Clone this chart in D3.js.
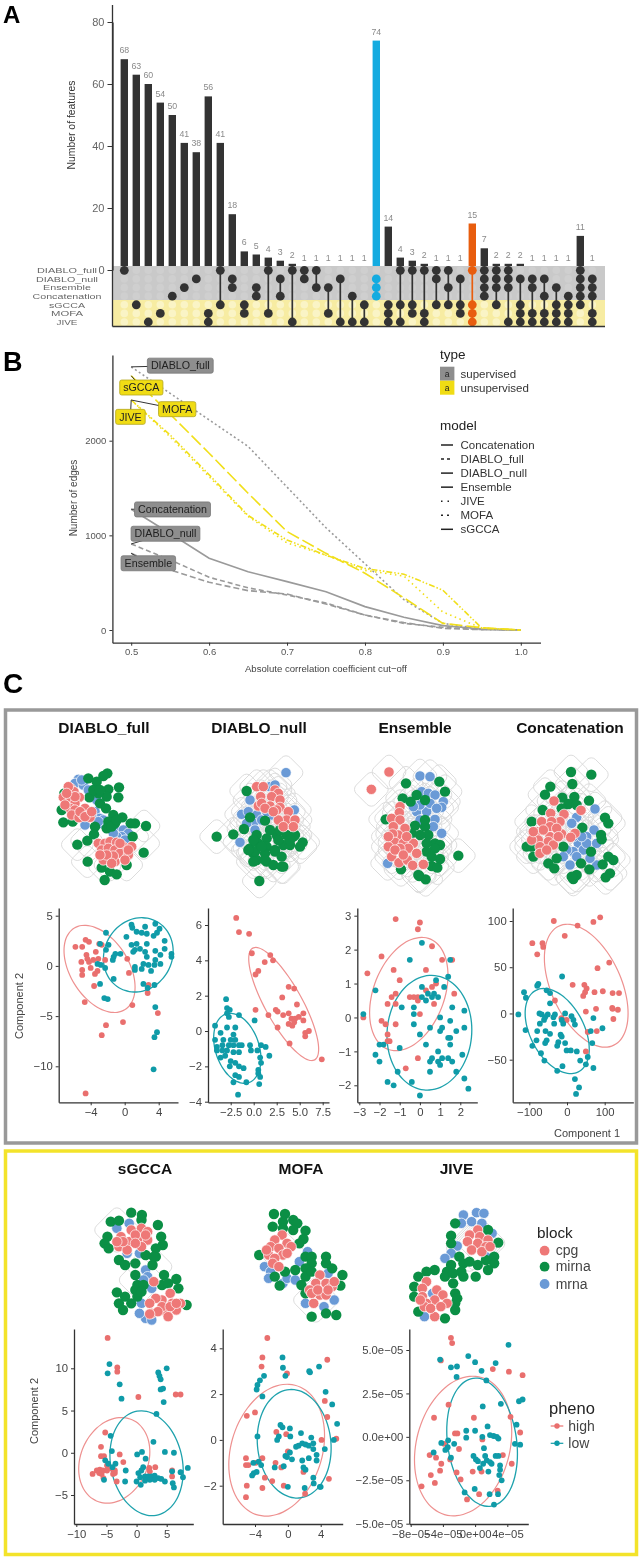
<!DOCTYPE html>
<html>
<head>
<meta charset="utf-8">
<script src="https://cdn.jsdelivr.net/npm/d3@7"></script>
<style>
  html, body { margin: 0; padding: 0; background: #fff; }
  svg { display: block; filter: blur(0.4px); }
  text { font-family: "Liberation Sans", Arial, sans-serif; }
</style>
</head>
<body>
<div id="chart"></div>
<script>
// panel A - upset plot
const setNames = ["DIABLO_full", "DIABLO_null", "Ensemble", "Concatenation", "sGCCA", "MOFA", "JIVE"];
const setNameWidths = [60, 62, 48, 69, 36, 32, 21];
const intersectionSizes = [68, 63, 60, 54, 50, 41, 38, 56, 41, 18, 6, 5, 4, 3, 2, 1, 1, 1, 1, 1, 1, 74, 14, 4, 3, 2, 1, 1, 1, 15, 7, 2, 2, 2, 1, 1, 1, 1, 11, 1];
const intersectionSets = [[0], [4], [6], [5], [3], [2], [1], [5, 6], [0, 4], [1, 2], [4, 5], [2, 3], [0, 5], [1, 3], [0, 6], [0, 1], [0, 2], [2, 5], [1, 6], [3, 6], [4, 6],
  [1, 2, 3], [4, 5, 6], [0, 4, 6], [0, 4, 5], [0, 5, 6], [0, 1, 4], [0, 2, 4], [1, 4, 5], [0, 4, 5, 6], [0, 1, 2, 3], [0, 1, 2, 4], [0, 1, 2, 6], [1, 4, 5, 6], [1, 2, 5, 6], [1, 3, 5, 6], [2, 4, 5, 6], [3, 4, 5, 6], [0, 1, 2, 3, 4], [1, 2, 3, 5, 6]];
const upsetTicks = [0, 20, 40, 60, 80];

// panel B - edges against cut-off
const cutoffs = [0.5, 0.55, 0.6, 0.65, 0.7, 0.75, 0.8, 0.85, 0.9, 0.95, 1.0];
const edgesConcatenation = [1276, 1020, 758, 615, 511, 405, 247, 134, 46, 10, 0];
const edgesDiabloFull = [2780, 2500, 2220, 1940, 1510, 1080, 700, 320, 70, 10, 0];
const edgesDiabloNull = [909, 740, 557, 445, 370, 285, 158, 70, 28, 5, 0];
const edgesEnsemble = [810, 634, 504, 416, 380, 275, 158, 78, 18, 3, 0];
const edgesJive = [2430, 2040, 1620, 1200, 920, 790, 630, 570, 190, 20, 0];
const edgesMofa = [2430, 2060, 1640, 1210, 950, 790, 650, 590, 420, 20, 0];
const edgesSgcca = [2686, 2280, 1868, 1445, 1040, 810, 600, 340, 70, 25, 0];
const edgeTicksX = [0.5, 0.6, 0.7, 0.8, 0.9, 1.0];
const edgeTicksY = [0, 1000, 2000];

// panel C - network node layouts (arbitrary layout units)
const fullCpg = [[212,325],[222,335],[205,320],[190,352],[212,352],[238,352],[225,370],[210,385],[225,390],[255,385],[215,405],[237,413],[270,412],[250,405],[240,395],[195,375],[225,350],[200,340],[255,410],[275,395],[295,490],[315,490],[330,485],[350,487],[305,510],[325,505],[345,510],[370,500],[395,500],[360,520],[385,525],[310,540],[345,545],[340,528],[375,540],[360,490],[320,525],[300,525],[335,550],[385,510]];
const fullMirna = [[322,280],[310,288],[265,295],[290,305],[357,322],[325,328],[320,350],[295,340],[268,352],[355,352],[300,370],[318,385],[280,330],[190,427],[218,425],[185,390],[340,405],[367,412],[325,425],[345,430],[285,440],[405,430],[438,438],[392,430],[320,445],[335,440],[282,463],[398,470],[262,482],[232,494],[431,518],[263,545],[305,563],[330,575],[350,583],[314,600],[380,555],[193,340],[300,330],[350,420]];
const fullMrna = [[235,298],[225,310],[250,315],[265,330],[290,360],[285,395],[300,415],[255,435],[275,410],[350,455],[370,450],[385,460],[365,470],[350,470],[375,480],[300,430],[245,300],[310,420],[340,460],[295,425]];
const fullHulls = [[432,438],[398,470],[232,494],[262,545],[314,560],[330,555],[431,490],[380,555],[260,482]];
const nullCpg = [[770,320],[790,320],[825,330],[835,340],[782,350],[815,350],[840,360],[775,378],[810,378],[840,382],[785,370],[830,390],[865,395],[860,420],[885,420],[835,420],[850,440],[880,440],[795,385],[820,395]];
const nullMirna = [[740,333],[650,470],[700,463],[732,447],[750,412],[795,422],[778,603],[908,487],[900,500],[770,465],[800,475],[830,465],[860,465],[885,465],[750,505],[775,490],[800,500],[825,510],[850,495],[870,495],[760,520],[795,520],[825,515],[845,530],[770,540],[800,545],[820,555],[850,560],[765,515],[745,510],[810,450],[835,480],[880,470],[785,500],[760,480],[840,450],[795,540],[870,480],[845,560],[760,545]];
const nullMrna = [[858,278],[883,390],[725,403],[720,487],[750,360],[745,395],[770,405],[760,430],[765,450],[810,320],[785,420],[740,430],[815,405],[800,395],[825,315]];
const ensCpg = [[207,276],[154,328],[240,380],[238,398],[215,415],[240,420],[255,445],[220,440],[235,465],[218,462],[225,487],[205,500],[250,490],[280,490],[265,505],[290,520],[215,530],[237,548],[262,540],[278,556],[310,553],[240,505],[260,470],[225,510],[250,525],[205,470]];
const ensMirna = [[258,310],[358,305],[375,335],[248,355],[290,345],[315,360],[272,365],[197,418],[285,437],[315,440],[315,420],[275,460],[325,465],[345,490],[360,495],[320,490],[345,505],[320,515],[360,537],[335,558],[352,563],[415,527],[243,568],[298,588],[317,598],[300,465],[335,530],[295,585]];
const ensMrna = [[300,288],[330,290],[305,335],[325,340],[345,345],[370,365],[365,382],[290,395],[320,395],[345,418],[365,460],[300,375],[330,370],[350,385],[203,550],[340,440],[300,420],[280,380]];
const concatCpg = [[702,363],[783,391],[732,403],[692,400],[720,425],[665,425],[695,425],[650,455],[690,440],[725,462],[765,460],[752,472],[655,480],[690,470],[635,480],[685,485],[660,500],[660,520],[710,445],[670,450],[700,495],[680,510],[715,470],[640,455]];
const concatMirna = [[753,276],[814,284],[757,312],[691,320],[675,344],[727,353],[763,351],[807,362],[668,390],[745,372],[770,375],[725,385],[635,425],[620,500],[640,530],[855,413],[865,430],[843,465],[845,478],[685,550],[710,535],[703,565],[787,443],[813,515],[783,550],[808,568],[848,553],[865,530],[880,540],[870,580],[857,592],[770,585],[760,597],[755,590],[730,500],[635,500]];
const concatMrna = [[825,387],[770,412],[755,430],[822,450],[800,470],[775,490],[760,515],[740,510],[790,510],[730,530],[770,530],[750,555],[830,555],[800,490],[760,470],[830,490],[785,470],[810,535]];
const sgccaCpg = [[295,290],[320,270],[345,265],[360,275],[290,320],[315,305],[340,295],[360,300],[310,330],[345,320],[330,285],[300,305],[330,310],[355,285],[285,305],[375,425],[415,460],[395,480],[380,475],[420,490],[365,490],[405,515],[440,490],[370,520],[395,500],[430,510],[415,500],[385,515],[410,530],[430,490],[365,522]];
const sgccaMirna = [[320,218],[346,225],[385,255],[270,245],[290,242],[345,240],[262,290],[255,310],[265,325],[393,290],[397,315],[380,325],[355,345],[380,350],[290,360],[305,375],[330,370],[372,375],[375,350],[330,405],[400,405],[430,417],[335,435],[350,435],[330,450],[435,445],[285,457],[305,470],[335,470],[290,490],[300,510],[320,490],[455,495],[395,435],[345,455],[410,430]];
const sgccaMrna = [[315,250],[355,390],[360,410],[350,420],[345,490],[355,535],[370,540],[340,520],[285,265],[340,340],[370,445],[310,340]];
const sgccaHulls = [[345,420],[365,380],[285,270]];
const mofaCpg = [[688,285],[670,300],[700,310],[660,320],[680,325],[710,320],[655,345],[690,345],[670,355],[700,340],[665,370],[680,380],[650,330],[780,405],[770,430],[795,430],[755,450],[780,465],[810,440],[765,490],[795,465],[760,460],[815,425],[775,450],[800,450]];
const mofaMirna = [[668,222],[695,222],[665,260],[690,245],[715,240],[725,250],[690,265],[715,270],[745,272],[740,297],[632,345],[745,350],[760,350],[795,350],[760,370],[795,370],[720,390],[745,385],[810,385],[695,395],[670,410],[835,405],[745,410],[735,435],[682,437],[830,437],[760,530],[795,520],[820,525],[745,460],[730,310],[760,395]];
const mofaMrna = [[645,380],[660,395],[655,415],[690,430],[700,415],[730,365],[750,335],[800,400],[815,480],[790,500],[745,490],[720,420]];
const mofaHulls = [[690,340],[770,480]];
const jiveCpg = [[1165,270],[1145,285],[1170,290],[1190,300],[1140,305],[1165,310],[1185,320],[1150,330],[1175,335],[1195,320],[1040,425],[1030,445],[1065,450],[1080,465],[1030,470],[1060,480],[1090,490],[1040,490],[1075,500],[1060,530],[1035,500],[1050,505],[1025,480]];
const jiveMirna = [[1110,250],[1100,287],[1100,310],[1190,270],[1215,308],[1205,350],[1205,370],[1120,350],[1130,370],[1145,365],[1165,375],[1190,390],[1100,375],[1125,395],[1160,410],[1130,410],[1090,395],[1060,390],[1040,395],[1020,410],[1010,440],[1085,410],[1105,430],[1110,460],[1110,490],[1115,475],[1110,510],[1010,470],[1020,515],[1085,535],[1105,400],[1185,360]];
const jiveMrna = [[1130,225],[1162,218],[1180,220],[1125,250],[1150,245],[1175,250],[1115,318],[1100,340],[1085,355],[1200,280],[1185,350],[1055,460],[1035,530]];
const jiveHulls = [[1175,310],[1165,315],[1155,320],[1145,325]];

// panel C - sample plots, each array is [component 1, component 2]
const fullHigh = [[-5.8,1.9],[-5,1.9],[-4.6,2.6],[-4.2,2.4],[-3,2.2],[-2.7,2.1],[-3.4,1.4],[-4.5,1.1],[-4.4,.7],[-5.1,.4],[-4.2,.4],[-3.7,.6],[-3.1,.7],[-2.3,.6],[-4,-.2],[-3.2,-.5],[-3.5,-.8],[-5,-.4],[-5,-.9],[-3.6,-2],[.3,.7],[.5,-.7],[2.8,-1.9],[2.7,-2.7],[-4.7,-3.6],[.9,-3.9],[3.9,-4.7],[-.2,-5.6],[-2.2,-5.9],[-2.7,-6.9],[-4.6,-12.7]];
const fullLow = [[-2.2,3.3],[-2.9,2.2],[-1.9,2.1],[-2.2,1.6],[-1.1,1.2],[-.5,1.2],[-1.3,.9],[-1.4,.6],[-3.2,.2],[-2.8,.1],[-2.3,-.2],[-1.3,-1.3],[-2.9,-1.8],[-2.4,-3.2],[-2,-3.3],[.8,4.1],[.9,3.8],[2.4,3.9],[3.6,4.2],[4.1,3.7],[1.4,3.4],[2,3.3],[2.6,3.2],[3.4,3],[3.8,3.3],[.2,2.9],[.8,2.1],[1.4,2.2],[2.6,2.2],[4.7,2.5],[4.7,1.7],[1.2,1.6],[1.8,1.7],[1,1.4],[2.4,1.4],[3.6,1.5],[2.6,.9],[4.2,1.1],[5.5,1.2],[5.5,.9],[3.6,.6],[2.2,.2],[2.8,.1],[3.5,.1],[4.2,.2],[1.2,-.1],[1.2,-.4],[2,-.3],[3.1,-.5],[2.2,-1.8],[2.7,-2.2],[3.5,-1.9],[3.6,-4.1],[3.8,-6.6],[3.5,-7.1],[3.4,-10.3]];
const nullHigh = [[-1.9,6.4],[-1.6,5.6],[-.5,5.5],[-.2,4.4],[1.8,4.3],[2.1,4],[1.2,3.9],[.5,3.4],[.2,3.2],[3.8,2.5],[4.4,2.4],[3.1,1.9],[4.7,1.5],[.2,1.2],[2.4,1.2],[2.6,1.1],[1.6,.9],[3.2,.9],[3.8,1],[4.1,.7],[4.5,.7],[4.9,.8],[5.4,1],[5.4,.6],[3.8,.4],[4.2,.3],[4.4,.5],[2.6,.2],[6,0],[5.6,-.1],[5.6,-.3],[3.9,-.7],[7.4,-1.6]];
const nullLow = [[-3,1.8],[-2.9,1.3],[-2.6,1.2],[-2.9,1],[-2.7,.8],[-1.6,.9],[-4.2,.3],[-2.9,.2],[-2,.2],[.1,.6],[-3.6,-.1],[-4.2,-.5],[-3.3,-.5],[-2.2,-.2],[-2.5,-.5],[-2,-.5],[-4,-.9],[-3.4,-.8],[-2.7,-.8],[-2.2,-.8],[-1.6,-.8],[-1.3,-.8],[-.4,-.8],[-4,-1.1],[-3.4,-1.1],[-2.9,-1.1],[-2.2,-1.2],[-1.6,-1.2],[-.3,-1.1],[.4,-1.1],[.8,-.8],[1.3,-.9],[1.7,-1.4],[.7,-1.5],[.8,-1.8],[-3.6,-1.5],[-3.1,-1.4],[-2.5,-1.7],[-2,-1.8],[-2.6,-2],[-1.6,-2],[-1.1,-2.1],[.5,-2.2],[.5,-2.4],[.7,-2.6],[-2,-2.5],[-1.6,-2.6],[-2.2,-2.9],[-.8,-2.9],[.6,-3],[-1.7,-3.6]];
const ensHigh = [[-1.2,2.9],[0,2.8],[-.1,2.6],[.6,2.1],[-1.9,1.8],[1.1,1.7],[1.6,1.7],[-2.6,1.3],[-1.3,1.4],[.3,1.4],[-1,1.1],[.8,1],[.6,.9],[.3,.8],[1.7,.7],[-1.2,.7],[-1.4,.6],[-1.6,.4],[-1.2,.4],[-.5,.6],[-.3,.6],[-.1,.6],[-.1,.5],[.7,.4],[0,.1],[-2.8,0],[-1.9,-.1],[-1.7,-.2],[-1.2,-.2],[-1.6,-.5],[-1.6,-.7],[-1.5,-.7],[-.1,-1.2],[-.7,-1.5]];
const ensLow = [[.1,2.2],[-.5,1.7],[1.5,1.7],[1.4,1.2],[.8,1.1],[.1,.9],[1.2,.9],[-2.2,.8],[.4,.7],[.7,.7],[.1,.6],[.3,.5],[.6,.6],[.9,.6],[-.9,.3],[-.3,.3],[1.6,.3],[2.2,.2],[-2.8,.1],[-.3,.1],[1,0],[1.5,-.1],[-.3,-.2],[.5,-.3],[1.1,-.3],[1,-.4],[2.2,-.3],[1.8,-.4],[0,-.5],[1.4,-.6],[1.5,-.6],[1.5,-.8],[.3,-.8],[-2,-.8],[-1.8,-.8],[-1,-.9],[-2.2,-1.1],[-2,-1.3],[.9,-1],[2.1,-1.1],[1.4,-1.2],[.6,-1.2],[.5,-1.3],[.9,-1.3],[1.1,-1.2],[1,-1.4],[1.6,-1.3],[.5,-1.6],[-1.1,-1.6],[1.8,-1.6],[-1.6,-1.9],[-1.3,-2],[-.4,-1.9],[2.2,-1.8],[2.4,-2.1],[0,-2.3]];
const concatHigh = [[-35,100],[28,95],[70,99],[88,104],[-6,84],[-92,76],[-65,76],[-63,72],[-79,64],[112,55],[81,49],[15,31],[46,31],[52,27],[73,23],[95,24],[48,23],[43,19],[121,22],[138,22],[-32,14],[77,5],[120,6],[121,5],[135,4],[50,2],[-15,-5],[123,-6],[-1,-7],[79,-19],[50,-41],[55,-20]];
const concatLow = [[-76,32],[-79,30],[-114,23],[-109,17],[-54,25],[-45,22],[-45,11],[-13,40],[-129,-1],[-73,0],[-67,-1],[-72,-11],[-61,-7],[-51,-1],[-32,-1],[-5,0],[-58,-4],[-36,-4],[-34,-11],[-10,-11],[-14,-7],[12,-3],[17,-7],[21,-12],[70,-5],[94,-16],[63,-19],[-110,-18],[-79,-19],[-57,-19],[-45,-22],[-17,-23],[-81,-29],[-54,-29],[-58,-32],[-23,-31],[-14,-25],[-26,-35],[-5,-32],[-92,-35],[67,-32],[-1,-40],[10,-40],[26,-41],[-69,-43],[55,-47],[-60,-51],[35,-51],[50,-55],[-12,-57],[-26,-62],[70,-59],[21,-71],[32,-80],[24,-87]];
const sgccaHigh = [[-4.8,13.6],[-3.2,10.1],[-3.2,9.6],[.3,6.6],[6.5,6.9],[7.3,6.9],[-5.2,2.4],[-5.9,.7],[-5.9,-.4],[-5.4,-.4],[-2.8,-.2],[-2.2,-1.1],[-7.3,-2.5],[-6.6,-2.1],[-6.1,-2],[-6.2,-2.4],[-5.6,-2.1],[-5.8,-2.5],[-4.9,-1.5],[-4.9,-2.1],[-4.1,-1.9],[-3.6,-2.1],[-3.9,-2.5],[-3.3,-3.4],[-3.6,-2.4],[-5.5,-3],[2.1,-1.8],[3.1,-1.7],[2.2,-2.2],[5.9,-2.1],[5.9,-2.8]];
const sgccaLow = [[-4.5,10.5],[-4.8,9.4],[-2.8,8.1],[-2.5,6.4],[5,10],[3.6,9.5],[3.8,9.1],[4,8.7],[4,7.5],[4.4,7.6],[4.5,6],[3.3,4.6],[-4.3,2],[2.8,1.3],[-4.1,.2],[.1,-.2],[.9,.1],[1.5,-.7],[4.7,.1],[6.2,0],[-5.2,-.9],[-4.7,-1.3],[-3.5,-1.3],[-4,-1.7],[-1.8,-2.1],[-1.9,-3.4],[-5.4,-3.2],[1.1,-1.7],[.8,-2.1],[.3,-2.4],[.6,-2.9],[0,-3.4],[.7,-3.8],[1.4,-2.8],[1.9,-2.8],[2.5,-2.8],[3,-2.7],[3.6,-3],[4.1,-3.1],[4.7,-3.4],[1.4,-3.3],[2.2,-3.2],[3,-3.2],[6,-3.6],[6.2,-4.1],[5.9,-2.2],[7.3,-2.3],[7.7,-2.9],[8.5,-1.8]];
const mofaHigh = [[-2.5,4.45],[-3.1,3.6],[-3.2,3.2],[4.8,3.5],[-.1,2.9],[-4,1.2],[-5,1.05],[4.5,1.7],[4.8,1],[-1.4,.35],[-.2,.25],[4.1,0],[0,-.5],[-5.1,-.8],[-3.1,-.8],[-3.9,-1],[-5.1,-1.1],[-4.8,-1.1],[-1.5,-1],[-.8,-1.2],[-2.8,-1.65],[-1.9,-1.8],[-5,-2],[-3.1,-2.1],[-.5,-2],[-5.1,-2.5],[1.9,-1.4],[2.1,-2.35],[5,-1.7],[5.9,.05]];
const mofaLow = [[-.65,3.6],[-.6,3.15],[-.3,2.8],[-2.9,2.8],[-3.4,2.6],[-3.7,2.4],[-3.8,2.2],[-3.1,1.9],[2.6,3],[2.7,2.95],[3.8,3.2],[4.6,2.1],[5.4,1.55],[6,.7],[5.6,0],[4.5,-.4],[4,-2.05],[-3.7,.15],[-.9,.65],[-.65,.55],[.25,.5],[-1.1,.15],[-1.3,0],[.3,.15],[1.6,.3],[1,-.3],[1.3,-.25],[1.75,-.15],[2.15,-.2],[2.55,-.25],[2.85,.1],[3.1,-.15],[3.1,-.4],[-.3,-.7],[.25,-.55],[-.1,-.75],[.5,-.85],[1.75,-.9],[2.55,-.8],[3.5,-.65],[3.5,-.9],[-4.15,-1.45],[-3.8,-1.4],[-4.35,-1.55],[-4.2,-1],[-3.55,-.95],[-3.25,-1.1],[-1.6,-1.2],[-.5,-1.15],[1.9,-1.2],[2.15,-1.3],[3.1,-1.65],[3.15,-1.9],[0,-2.05],[2.05,-2.1],[3.9,-2.05]];
// JIVE values are in units of 1e-05
const jiveHigh = [[-3,5.7],[-2.85,5.4],[-4.25,4.4],[2.2,3.9],[4.2,3.75],[5.9,3.55],[-3.3,1.85],[-5.1,1.1],[-.15,1.1],[4.4,1.15],[5.6,.25],[-2.5,.2],[-2.2,.2],[.9,-.15],[-3.85,-.4],[-2,-.7],[-5.65,-1.05],[-4.85,-1.2],[-4.2,-1.55],[-3.1,-1.3],[3.45,-1.05],[4.55,-1.55],[-4.35,-1.95],[-5.5,-2.2],[-2.3,-2.05],[-.3,-2],[.8,-2],[-1.8,-2.45],[-5,-2.65],[-6.65,-2.85],[-1,-3.6],[.5,-3.3],[2.8,-3.1]];
const jiveLow = [[-4.35,4.45],[-.85,4.65],[0,4.3],[2.55,4.25],[4.15,5.3],[-3,4],[-2.25,4.05],[.8,3.8],[-2.3,3.45],[1.4,3.25],[.95,1.75],[3.2,1.9],[5.45,2.05],[5.9,2.15],[5.15,.7],[1.55,.6],[-1.1,.35],[0,.35],[-1.1,-.05],[.9,0],[1.85,.1],[2.3,.05],[2.7,0],[2.9,-.1],[-4.2,-.35],[-3.35,-.2],[-2.6,-.4],[-3.4,-.6],[-3.7,-.75],[-5.15,-.9],[-3,-1.2],[4.95,-.4],[5.6,-.45],[1.1,-.65],[-.2,-1.1],[.1,-1.3],[1.25,-1.1],[2.55,-1.1],[2.9,-1.1],[.35,-1.4],[1,-1.55],[1.45,-1.35],[1.85,-1.45],[2.05,-1.55],[.6,-1.8],[1.65,-2],[3.1,-1.65],[3.1,-1.9],[3,-2.2],[3.3,-2.5],[-1.3,-3.2],[-.05,-3],[1.8,-3.3],[2.85,-3.3],[2.35,-3.9]];

const width = 643, height = 1561;
const red = "#e96f6e", teal = "#0f9ba8", cpgCol = "#ee7877", mirnaCol = "#0b8f45", mrnaCol = "#6a9ad6";
const grayLine = "#9a9a9a", yellowLine = "#f1df1a";

const svg = d3.select("#chart").append("svg").attr("width", width).attr("height", height);

function styleAxis(g, size, color) {
  g.selectAll("text").style("font-size", size + "px").style("fill", color);
  g.selectAll("line").attr("stroke", "#333").attr("stroke-width", 1);
  g.select(".domain").attr("stroke", "#333").attr("stroke-width", 1.3);
}

function panelLetter(t, y, size) {
  svg.append("text").attr("x", 3).attr("y", y).style("font-size", size + "px").style("font-weight", "bold").style("fill", "#000").text(t);
}
panelLetter("A", 23, 24);
panelLetter("B", 371, 27);
panelLetter("C", 693, 28);

// ---------- A ----------
function drawUpset() {
  const g = svg.append("g");
  const x = d3.scalePoint().domain(d3.range(intersectionSizes.length)).range([124.3, 592.3]);
  const y = d3.scaleLinear().domain([0, 80]).range([270, 22]);
  const row = d3.scalePoint().domain(d3.range(setNames.length)).range([270.3, 322]);
  const colorOf = i => i === 21 ? "#14abe0" : i === 29 ? "#e85d0e" : "#333333";

  g.selectAll(".bar").data(intersectionSizes).enter().append("rect")
    .attr("x", (d, i) => x(i) - 3.7).attr("width", 7.4)
    .attr("y", d => y(d)).attr("height", d => y(0) - y(d))
    .attr("fill", (d, i) => colorOf(i));
  g.selectAll(".count").data(intersectionSizes).enter().append("text")
    .attr("x", (d, i) => x(i)).attr("y", d => y(d) - 6)
    .attr("text-anchor", "middle").style("font-size", "8.8px").style("fill", "#8a8a8a").text(d => d);

  // matrix background
  g.append("rect").attr("x", 113).attr("y", 266).attr("width", 492).attr("height", 34).attr("fill", "#c9c9c9");
  g.append("rect").attr("x", 113).attr("y", 300).attr("width", 492).attr("height", 26.5).attr("fill", "#f7eca2");
  x.domain().forEach(i => {
    row.domain().forEach(r => {
      g.append("circle").attr("cx", x(i)).attr("cy", row(r)).attr("r", 3.8)
        .attr("fill", r < 4 ? "#cfcfcf" : "#faf4c6");
    });
  });
  intersectionSets.forEach((sets, i) => {
    g.append("line").attr("x1", x(i)).attr("x2", x(i))
      .attr("y1", row(d3.min(sets))).attr("y2", row(d3.max(sets)))
      .attr("stroke", colorOf(i)).attr("stroke-width", 1.7);
    sets.forEach(r => {
      g.append("circle").attr("cx", x(i)).attr("cy", row(r)).attr("r", 4.4).attr("fill", colorOf(i));
    });
  });

  const yAxis = g.append("g").attr("transform", "translate(112.5,0)")
    .call(d3.axisLeft(y).tickValues(upsetTicks).tickSize(5).tickSizeOuter(0));
  styleAxis(yAxis, 11, "#666");
  g.append("line").attr("x1", 112.5).attr("x2", 112.5).attr("y1", 5).attr("y2", 326.5).attr("stroke", "#333").attr("stroke-width", 1.3);
  g.append("line").attr("x1", 112.5).attr("x2", 605).attr("y1", 326.5).attr("y2", 326.5).attr("stroke", "#333").attr("stroke-width", 1.3);

  // set names: small font stretched to the reference width so rows stay apart
  g.selectAll(".setName").data(setNames).enter().append("text")
    .attr("x", 67).attr("y", (d, i) => row(i) + 2.8).attr("text-anchor", "middle")
    .attr("textLength", (d, i) => setNameWidths[i]).attr("lengthAdjust", "spacingAndGlyphs")
    .style("font-size", "7.4px").style("fill", "#666").text(d => d);

  g.append("text").attr("transform", "translate(75,125) rotate(-90)").attr("text-anchor", "middle")
    .style("font-size", "10.4px").style("fill", "#333").text("Number of features");
}
drawUpset();

// ---------- B ----------
function drawEdges() {
  const g = svg.append("g");
  const x = d3.scaleLinear().domain([0.5, 1]).range([131.2, 520.8]);
  const y = d3.scaleLinear().domain([0, 2000]).range([630, 440.7]);
  const line = d3.line().x((d, i) => x(cutoffs[i])).y(d => y(d));
  const models = [
    { name: "Concatenation", values: edgesConcatenation, color: grayLine, dash: null, lab: [0.553, 1274], key: null },
    { name: "DIABLO_full", values: edgesDiabloFull, color: grayLine, dash: "2,2.6", lab: [0.563, 2793], key: "3,3" },
    { name: "DIABLO_null", values: edgesDiabloNull, color: grayLine, dash: "5,3", lab: [0.544, 1017], key: null },
    { name: "Ensemble", values: edgesEnsemble, color: grayLine, dash: "6,3", lab: [0.522, 705], key: null },
    { name: "JIVE", values: edgesJive, color: yellowLine, dash: "1.5,3.5", lab: [0.499, 2252], key: "1.5,5" },
    { name: "MOFA", values: edgesMofa, color: yellowLine, dash: "6,2,1.5,2,1.5,2", lab: [0.559, 2333], key: "2,4" },
    { name: "sGCCA", values: edgesSgcca, color: yellowLine, dash: "13,4", lab: [0.513, 2562], key: null }
  ];

  models.forEach(m => {
    g.append("path").datum(m.values).attr("d", line).attr("fill", "none")
      .attr("stroke", m.color).attr("stroke-width", 1.6).attr("stroke-dasharray", m.dash);
  });

  const xAxis = g.append("g").attr("transform", "translate(0,642.7)")
    .call(d3.axisBottom(d3.scaleLinear().domain([x.invert(112.4), x.invert(540.5)]).range([112.4, 540.5]))
      .tickValues(edgeTicksX).tickFormat(d3.format(".1f")).tickSize(3).tickSizeOuter(0));
  styleAxis(xAxis, 9.5, "#555");
  const yAxis = g.append("g").attr("transform", "translate(112.4,0)")
    .call(d3.axisLeft(d3.scaleLinear().domain([y.invert(642.7), y.invert(355)]).range([642.7, 355]))
      .tickValues(edgeTicksY).tickFormat(d3.format("d")).tickSize(3).tickSizeOuter(0));
  styleAxis(yAxis, 9.5, "#555");

  g.append("text").attr("x", 326).attr("y", 672).attr("text-anchor", "middle").style("font-size", "9.6px").style("fill", "#444")
    .text("Absolute correlation coefficient cut\u2212off");
  g.append("text").attr("transform", "translate(77,498) rotate(-90)").attr("text-anchor", "middle").style("font-size", "10px").style("fill", "#444")
    .text("Number of edges");

  // repelled labels
  models.forEach(m => {
    const cx = x(m.lab[0]), cy = y(m.lab[1]);
    g.append("line").attr("x1", x(cutoffs[0])).attr("y1", y(m.values[0])).attr("x2", cx).attr("y2", cy)
      .attr("stroke", "#333").attr("stroke-width", 1);
    const box = g.append("rect").attr("y", cy - 7.5).attr("height", 15).attr("rx", 2)
      .attr("fill", m.color === grayLine ? "#8e8e8e" : "#f0dc14")
      .attr("stroke", m.color === grayLine ? "#777" : "#b5a820").attr("stroke-width", 0.8);
    const t = g.append("text").attr("x", cx).attr("y", cy + 3.7).attr("text-anchor", "middle")
      .style("font-size", "10.7px").style("fill", "#222").text(m.name);
    const w = t.node().getComputedTextLength() + 7;
    box.attr("x", cx - w / 2).attr("width", w);
  });

  // legends
  const lx = 440, tx = 460.5;
  g.append("text").attr("x", lx).attr("y", 359).style("font-size", "13.5px").style("fill", "#222").text("type");
  [["supervised", "#8e8e8e", 373.7], ["unsupervised", "#f0dc14", 387.7]].forEach(d => {
    g.append("rect").attr("x", lx).attr("y", d[2] - 7).attr("width", 14.4).attr("height", 14).attr("fill", d[1]);
    g.append("text").attr("x", lx + 7.2).attr("y", d[2] + 3).attr("text-anchor", "middle").style("font-size", "8.5px").style("fill", "#222").text("a");
    g.append("text").attr("x", tx).attr("y", d[2] + 4).style("font-size", "11.5px").style("fill", "#333").text(d[0]);
  });
  g.append("text").attr("x", lx).attr("y", 430).style("font-size", "13.5px").style("fill", "#222").text("model");
  const keyY = d3.scalePoint().domain(models.map(m => m.name)).range([445, 529.3]);
  models.forEach(m => {
    g.append("line").attr("x1", lx + 1).attr("x2", lx + 13).attr("y1", keyY(m.name)).attr("y2", keyY(m.name))
      .attr("stroke", "#222").attr("stroke-width", 1.5).attr("stroke-dasharray", m.key);
    g.append("text").attr("x", tx).attr("y", keyY(m.name) + 4).style("font-size", "11.5px").style("fill", "#333").text(m.name);
  });
}
drawEdges();

// ---------- C frames ----------
svg.append("rect").attr("x", 5.5).attr("y", 710).attr("width", 631).attr("height", 433).attr("fill", "none").attr("stroke", "#999").attr("stroke-width", 3.5);
svg.append("rect").attr("x", 5.5).attr("y", 1151).attr("width", 631).attr("height", 403.5).attr("fill", "none").attr("stroke", "#f3e32a").attr("stroke-width", 3.5);

// ---------- C networks ----------
const nets = [
  { title: "DIABLO_full", tx: 104, ty: 733, cpg: fullCpg, mirna: fullMirna, mrna: fullMrna, hulls: fullHulls, dom: [0, 990, 680], kx: 1 / 3, ky: 1 / 3, hull: 55 },
  { title: "DIABLO_null", tx: 259, ty: 733, cpg: nullCpg, mirna: nullMirna, mrna: nullMrna, hulls: null, dom: [0, 990, 680], kx: 1 / 3, ky: 1 / 3, hull: 58 },
  { title: "Ensemble", tx: 415, ty: 733, cpg: ensCpg, mirna: ensMirna, mrna: ensMrna, hulls: null, dom: [320, 969, 680], kx: 1 / 3, ky: 1 / 3, hull: 58 },
  { title: "Concatenation", tx: 570, ty: 733, cpg: concatCpg, mirna: concatMirna, mrna: concatMrna, hulls: null, dom: [320, 969, 680], kx: 1 / 3, ky: 1 / 3, hull: 58 },
  { title: "sGCCA", tx: 145, ty: 1173.5, cpg: sgccaCpg, mirna: sgccaMirna, mrna: sgccaMrna, hulls: sgccaHulls, dom: [0, 1568, 1140], kx: 1 / 2.4385, ky: 1 / 3, hull: 60 },
  { title: "MOFA", tx: 301, ty: 1173.5, cpg: mofaCpg, mirna: mofaMirna, mrna: mofaMrna, hulls: mofaHulls, dom: [0, 1568, 1140], kx: 1 / 2.4385, ky: 1 / 3, hull: 60 },
  { title: "JIVE", tx: 456.5, ty: 1173.5, cpg: jiveCpg, mirna: jiveMirna, mrna: jiveMrna, hulls: jiveHulls, dom: [0, 1568, 1140], kx: 1 / 2.4385, ky: 1 / 3, hull: 62 }
];

function drawNetwork(n) {
  const g = svg.append("g");
  g.append("text").attr("x", n.tx).attr("y", n.ty).attr("text-anchor", "middle")
    .style("font-size", "15.5px").style("font-weight", "bold").style("fill", "#111").text(n.title);
  const px = d3.scaleLinear().domain([0, n.dom[1]]).range([n.dom[0], n.dom[0] + n.dom[1] * n.kx]);
  const py = d3.scaleLinear().domain([0, 1000]).range([n.dom[2], n.dom[2] + 1000 * n.ky]);
  const hullNodes = n.hulls || n.cpg.concat(n.mirna, n.mrna);
  const side = n.hull * n.kx * Math.SQRT2;
  hullNodes.forEach(d => {
    g.append("rect").attr("x", -side / 2).attr("y", -side / 2).attr("width", side).attr("height", side).attr("rx", 6)
      .attr("transform", `translate(${px(d[0])},${py(d[1])}) rotate(45)`)
      .attr("fill", "none").attr("stroke", "#dadada").attr("stroke-width", 0.9);
  });
  [[n.mrna, mrnaCol], [n.mirna, mirnaCol], [n.cpg, cpgCol]].forEach(s => {
    g.selectAll(null).data(s[0]).enter().append("circle")
      .attr("cx", d => px(d[0])).attr("cy", d => py(d[1])).attr("r", 5.2)
      .attr("fill", s[1]).attr("stroke", s[1] === mirnaCol ? "none" : "#fff").attr("stroke-width", 0.7);
  });
}
nets.forEach(drawNetwork);

// ---------- C sample plots ----------
const plots = [
  { hi: fullHigh, lo: fullLow, fx: [-4, 4, 90.7, 158.7], fy: [-10, 5, 1066.3, 915.7], box: [58.7, 178, 908, 1102.3], xt: [-4, 0, 4], yt: [-10, -5, 0, 5],
    eh: [-2.96, -.3, 4.18, 4.34, -.42], el: [1.6, 1.1, 4.1, 3.7, .1] },
  { hi: nullHigh, lo: nullLow, fx: [-2.5, 7.5, 230.7, 322.7], fy: [-4, 6, 1101.7, 925], box: [208, 329, 908, 1102.3], xt: [-2.5, 0, 2.5, 5, 7.5], yt: [-4, -2, 0, 2, 4, 6], xf: ".1f",
    eh: [3.26, 1.53, 3.8, 3.2, -.8], el: [-1.78, -.98, 2.57, 1.98, -.3] },
  { hi: ensHigh, lo: ensLow, fx: [-3, 2, 359.3, 460.3], fy: [-2, 3, 1085.3, 915.7], box: [357.3, 477.3, 908, 1102.3], xt: [-3, -2, -1, 0, 1, 2], yt: [-2, -1, 0, 1, 2, 3],
    eh: [-.55, .69, 1.94, 1.67, .33], el: [.47, -.45, 2.1, 1.69, .05] },
  { hi: concatHigh, lo: concatLow, fx: [-100, 100, 529.3, 604.7], fy: [-50, 100, 1059.7, 921], box: [512.7, 633.3, 908, 1102.3], xt: [-100, 0, 100], yt: [-50, 0, 50, 100],
    eh: [51, 30, 111, 66.5, -.45], el: [-26, -19, 85, 46, -.42] },
  { hi: sgccaHigh, lo: sgccaLow, fx: [-10, 5, 76.3, 166.7], fy: [-5, 10, 1495, 1368.3], box: [74, 193.3, 1329, 1524], xt: [-10, -5, 0, 5], yt: [-5, 0, 5, 10],
    eh: [-3.7, -.9, 5.9, 5.07, .2], el: [1.66, -1.24, 6.08, 6.2, -.15] },
  { hi: mofaHigh, lo: mofaLow, fx: [-4, 4, 255, 320.7], fy: [-2, 4, 1485.7, 1348.3], box: [222.7, 342.7, 1329, 1524], xt: [-4, 0, 4], yt: [-2, 0, 2, 4],
    eh: [-1.36, -.45, 5.83, 2.88, .22], el: [.77, -.17, 4.5, 2.37, -.08] },
  { hi: jiveHigh, lo: jiveLow, fx: [-8, 4, 410.7, 507.3], fy: [-5, 5, 1523.7, 1350], box: [409.3, 528.3, 1329, 1524], xt: [-8, -4, 0, 4], yt: [-5, -2.5, 0, 2.5, 5],
    eh: [-1.49, -.53, 6.04, 4.02, .2], el: [.87, -.31, 4.39, 3.69, -.18],
    xl: ["\u22128e\u221205", "\u22124e\u221205", "0e+00", "4e\u221205"], yl: ["\u22125.0e\u221205", "\u22122.5e\u221205", "0.0e+00", "2.5e\u221205", "5.0e\u221205"] }
];

function drawSamples(p) {
  const g = svg.append("g");
  const [left, right, top, bottom] = p.box;
  const xs = d3.scaleLinear().domain(p.fx.slice(0, 2)).range(p.fx.slice(2));
  const ys = d3.scaleLinear().domain(p.fy.slice(0, 2)).range(p.fy.slice(2));
  const x = d3.scaleLinear().domain([xs.invert(left), xs.invert(right)]).range([left, right]);
  const y = d3.scaleLinear().domain([ys.invert(bottom), ys.invert(top)]).range([bottom, top]);

  const xAxis = d3.axisBottom(x).tickValues(p.xt).tickSize(3).tickSizeOuter(0).tickFormat(d3.format(p.xf || "d"));
  if (p.xl) xAxis.tickFormat((d, i) => p.xl[i]);
  const yAxis = d3.axisLeft(y).tickValues(p.yt).tickSize(3).tickSizeOuter(0).tickFormat(d3.format("d"));
  if (p.yl) yAxis.tickFormat((d, i) => p.yl[i]);
  styleAxis(g.append("g").attr("transform", `translate(0,${bottom})`).call(xAxis), 11.3, "#444");
  styleAxis(g.append("g").attr("transform", `translate(${left},0)`).call(yAxis), 11.3, "#444");

  const ell = d3.line().x(d => x(d[0])).y(d => y(d[1])).curve(d3.curveCardinalClosed);
  const ellipsePts = e => d3.range(0, 2 * Math.PI, Math.PI / 24).map(t =>
    [e[0] + e[2] * Math.cos(t), e[1] + e[3] * (e[4] * Math.cos(t) + Math.sqrt(1 - e[4] * e[4]) * Math.sin(t))]);

  [[p.hi, red, p.eh, "#ee9190", 1.2], [p.lo, teal, p.el, "#1ea2ad", 1.3]].forEach(s => {
    g.append("path").datum(ellipsePts(s[2])).attr("d", ell).attr("fill", "none").attr("stroke", s[3]).attr("stroke-width", s[4]);
  });
  [[p.hi, red], [p.lo, teal]].forEach(s => {
    g.selectAll(null).data(s[0]).enter().append("circle")
      .attr("cx", d => x(d[0])).attr("cy", d => y(d[1])).attr("r", 2.9).attr("fill", s[1]);
  });
}
plots.forEach(drawSamples);

svg.append("text").attr("transform", "translate(22.5,1006) rotate(-90)").attr("text-anchor", "middle").style("font-size", "11px").style("fill", "#444").text("Component 2");
svg.append("text").attr("transform", "translate(38,1411) rotate(-90)").attr("text-anchor", "middle").style("font-size", "11px").style("fill", "#444").text("Component 2");
svg.append("text").attr("x", 587).attr("y", 1136.5).attr("text-anchor", "middle").style("font-size", "11px").style("fill", "#444").text("Component 1");

// legends on the yellow frame
svg.append("text").attr("x", 537).attr("y", 1238).style("font-size", "15.3px").style("fill", "#222").text("block");
[["cpg", cpgCol, 1250.7], ["mirna", mirnaCol, 1266.7], ["mrna", mrnaCol, 1284]].forEach(d => {
  svg.append("circle").attr("cx", 544.6).attr("cy", d[2]).attr("r", 4.9).attr("fill", d[1]);
  svg.append("text").attr("x", 555.7).attr("y", d[2] + 4.6).style("font-size", "14px").style("fill", "#444").text(d[0]);
});
svg.append("text").attr("x", 549).attr("y", 1414).style("font-size", "16.5px").style("fill", "#222").text("pheno");
[["high", red, 1426], ["low", teal, 1443.3]].forEach(d => {
  svg.append("line").attr("x1", 550.7).attr("x2", 563.3).attr("y1", d[2]).attr("y2", d[2]).attr("stroke", d[1]).attr("stroke-width", 1.2);
  svg.append("circle").attr("cx", 557).attr("cy", d[2]).attr("r", 2.7).attr("fill", d[1]);
  svg.append("text").attr("x", 568.3).attr("y", d[2] + 4.6).style("font-size", "14px").style("fill", "#444").text(d[0]);
});
</script>
</body>
</html>
